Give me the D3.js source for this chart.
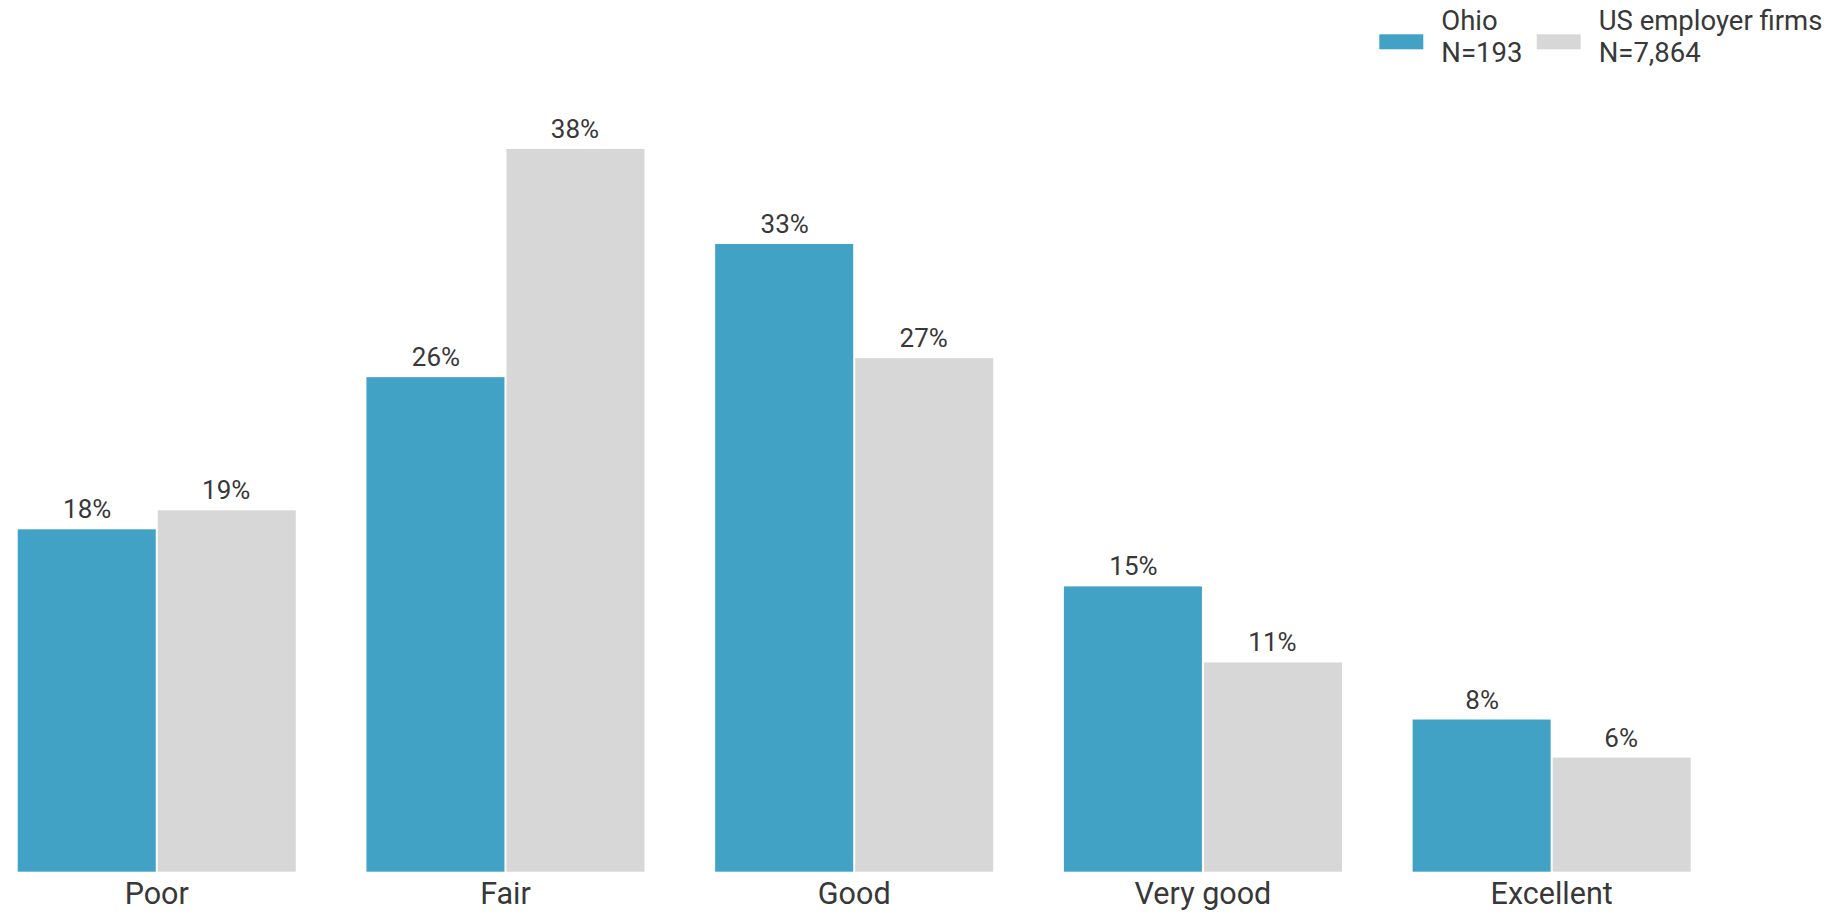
<!DOCTYPE html>
<html>
<head>
<meta charset="utf-8">
<script src="https://cdn.jsdelivr.net/npm/d3@7"></script>
<style>
  html, body { margin: 0; padding: 0; background: #fff; }
  svg { display: block; }
  text { font-family: Roboto, "Noto Sans", sans-serif; fill: #383838; }
</style>
</head>
<body>
<svg id="chart" width="1845" height="914"></svg>
<script>
const categories = ["Poor", "Fair", "Good", "Very good", "Excellent"];
const seriesNames = ["Ohio", "US employer firms"];
const seriesSizes = ["N=193", "N=7,864"];
const ohioValues = [18, 26, 33, 15, 8];
const usValues = [19, 38, 27, 11, 6];
const colors = ["#42A2C6", "#D7D7D7"];

const svg = d3.select("#chart");

const x0 = d3.scaleBand().domain(categories).range([17.7, 1690.7]).paddingInner(0.2026).paddingOuter(0);
const x1 = d3.scaleBand().domain(seriesNames).range([0, x0.bandwidth()]).padding(0);
const y = d3.scaleLinear().domain([0, 38]).range([871.7, 148.9]);
const color = d3.scaleOrdinal().domain(seriesNames).range(colors);

const rows = categories.map((c, i) => ({
  category: c,
  values: [
    { series: seriesNames[0], value: ohioValues[i] },
    { series: seriesNames[1], value: usValues[i] }
  ]
}));

const groups = svg.append("g").selectAll("g")
  .data(rows).join("g")
  .attr("transform", d => `translate(${x0(d.category)},0)`);

groups.selectAll("rect")
  .data(d => d.values).join("rect")
  .attr("x", d => x1(d.series) + (d.series === seriesNames[1] ? 1 : 0))
  .attr("width", d => x1.bandwidth() - 1)
  .attr("y", d => y(d.value))
  .attr("height", d => y(0) - y(d.value))
  .attr("fill", d => color(d.series));

groups.selectAll("text.val")
  .data(d => d.values).join("text")
  .attr("class", "val")
  .attr("x", d => x1(d.series) + x1.bandwidth() / 2)
  .attr("y", d => y(d.value) - 11)
  .attr("text-anchor", "middle")
  .style("font-size", "26px")
  .text(d => d.value + "%");

// category axis labels
const xAxis = d3.axisBottom(x0).tickSize(0).tickPadding(0);
const axisG = svg.append("g").attr("transform", `translate(0,${y(0)})`).call(xAxis);
axisG.select(".domain").remove();
axisG.selectAll("text")
  .attr("dy", null)
  .attr("y", 32.3)
  .style("font-size", "30.5px")
  .style("font-family", "Roboto, 'Noto Sans', sans-serif")
  .attr("fill", "#383838");

// legend
const legendSwatchX = [1379.3, 1536.7];
const legendG = svg.append("g");
seriesNames.forEach((s, i) => {
  const g = legendG.append("g");
  g.append("rect")
    .attr("x", legendSwatchX[i]).attr("y", 34.3)
    .attr("width", 44).attr("height", 15)
    .attr("fill", colors[i]);
  const t = g.append("text")
    .attr("x", legendSwatchX[i] + 62)
    .attr("y", 30)
    .style("font-size", "27.5px");
  t.append("tspan").attr("x", legendSwatchX[i] + 62).attr("y", 30).text(s);
  t.append("tspan").attr("x", legendSwatchX[i] + 62).attr("y", 61.7).text(seriesSizes[i]);
});
</script>
</body>
</html>
